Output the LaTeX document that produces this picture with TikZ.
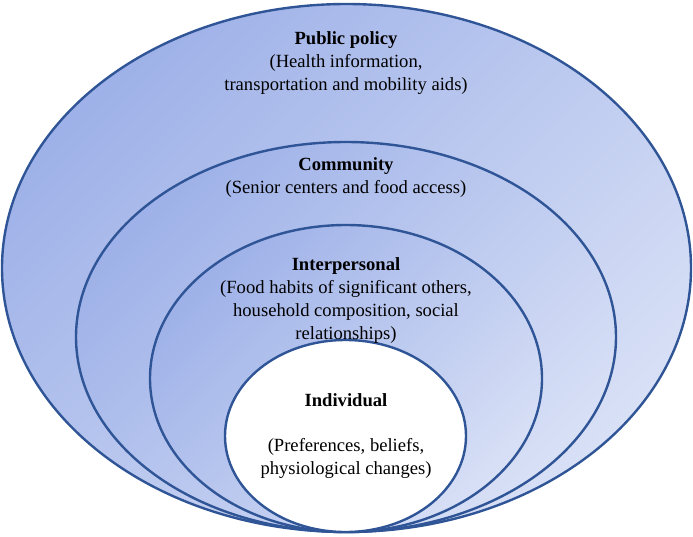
\documentclass[tikz,border=0pt]{standalone}
\usepackage{fontspec}
\setmainfont{Liberation Serif}

\definecolor{bordaAzul}{HTML}{2F5597}
\definecolor{azulEscuro}{HTML}{9EB1E8}
\definecolor{azulClaro}{HTML}{D8E0F6}

\tikzset{
	camada/.style={draw=bordaAzul, line width=2.4pt, top color=azulEscuro, bottom color=azulClaro, shading angle=45},
	texto/.style={align=center, font=\fontsize{18.6}{23}\selectfont, inner sep=0pt}
}

\begin{document}
\begin{tikzpicture}[x=1pt, y=-1pt]

	\useasboundingbox (0,0) rectangle (693,536);

	% CAMADAS
	\coordinate (centroPolitica) at (346.5,268);
	\coordinate (centroComunidade) at (346,337);
	\coordinate (centroInterpessoal) at (346,378.5);
	\coordinate (centroIndividual) at (345.5,436);

	\path[camada] (centroPolitica) ellipse [x radius=344.5, y radius=264];
	\path[camada] (centroComunidade) ellipse [x radius=270, y radius=195];
	\path[camada] (centroInterpessoal) ellipse [x radius=196, y radius=153.5];
	\draw[draw=bordaAzul, line width=2.4pt, fill=white] (centroIndividual) ellipse [x radius=120.5, y radius=96];

	% TEXTOS
	\node[texto] (politica) at (346,63.5) {\textbf{Public policy}\\(Health information,\\transportation and mobility aids)};
	\node[texto] (comunidade) at (346,178) {\textbf{Community}\\(Senior centers and food access)};
	\node[texto] (interpessoal) at (346,301) {\textbf{Interpersonal}\\(Food habits of significant others,\\household composition, social\\relationships)};
	\node[texto] (individual) at (346,400) {\textbf{Individual}};
	\node[texto] (individualDesc) at (346,458.5) {(Preferences, beliefs,\\physiological changes)};

\end{tikzpicture}
\end{document}
